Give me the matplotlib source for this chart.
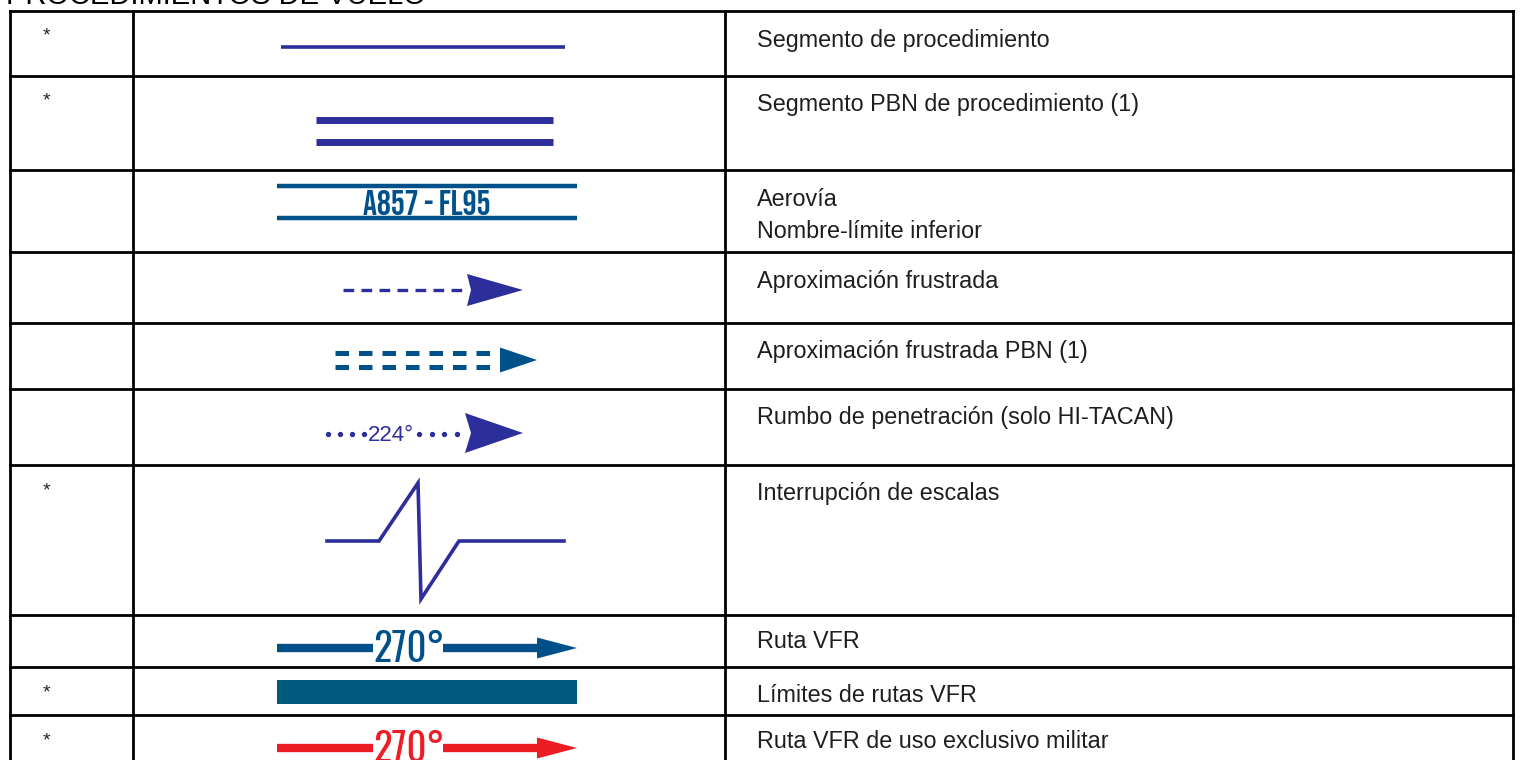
import matplotlib
matplotlib.use("Agg")
import matplotlib.pyplot as plt
import numpy as np
from matplotlib import font_manager as fm
from matplotlib.patches import Polygon, Rectangle

# ---- data ----
title = "PROCEDIMIENTOS DE VUELO"
descriptions = [
    "Segmento de procedimiento",
    "Segmento PBN de procedimiento (1)",
    "Aerovía\nNombre-límite inferior",
    "Aproximación frustrada",
    "Aproximación frustrada PBN (1)",
    "Rumbo de penetración (solo HI-TACAN)",
    "Interrupción de escalas",
    "Ruta VFR",
    "Límites de rutas VFR",
    "Ruta VFR de uso exclusivo militar",
]
starred = [True, True, False, False, False, False, True, False, True, True]
airway_label = "A857 - FL95"
heading_label = "224°"
vfr_label = "270°"

# ---- fonts ----
_avail = {f.name for f in fm.fontManager.ttflist}


def pick(cands, default="DejaVu Sans"):
    for c in cands:
        if c in _avail:
            return c
    return default


F_TEXT = pick(["Nimbus Sans", "Liberation Sans", "Arimo"])
F_AIRWAY = pick(["Bebas Neue", "Oswald", "Fira Sans Extra Condensed"])
F_VFR = pick(["Oswald", "Antonio", "Bebas Neue", "Fira Sans Extra Condensed"])

# ---- layout ----
W, H = 1521, 760
NAVY = "#2B2E9B"
BLUE = "#00508A"
TEAL = "#00587C"
RED = "#EE1C25"

fig = plt.figure(figsize=(W / 100, H / 100), dpi=100)
ax = fig.add_axes([0, 0, 1, 1])
ax.set_xlim(0, W)
ax.set_ylim(H, 0)
ax.axis("off")

row_edges = [11, 76, 170, 252, 323, 389, 465, 615, 667, 715]
x_left, x_c1, x_c2, x_right = 10, 133, 725, 1513
lw_grid = 2.0

for y in row_edges:
    ax.plot([x_left, x_right], [y, y], color="black", lw=lw_grid, solid_capstyle="projecting")
for x in (x_left, x_c1, x_c2, x_right):
    ax.plot([x, x], [row_edges[0], H + 5], color="black", lw=lw_grid, solid_capstyle="projecting")

# title (cut at the top edge as in the reference)
ax.text(6, 4, title, fontsize=21, family=F_TEXT, color="black", va="baseline", ha="left")

desc_base = [47, 111, 206, 288, 358, 424, 500, 648, 702, 748]
star_y = [36, 101, 0, 0, 0, 0, 491, 0, 693, 741]
for i, d in enumerate(descriptions):
    lines = d.split("\n")
    for k, ln in enumerate(lines):
        ax.text(757, desc_base[i] + 31.5 * k, ln, fontsize=16.8, family=F_TEXT,
                color="#1e1e1e", va="baseline", ha="left")
    if starred[i]:
        ax.text(46, star_y[i], "*", fontsize=14, family=F_TEXT,
                color="#222222", ha="center", va="center")


def arrowhead(x0, x1, y, hh, color, notch=0.0):
    ax.add_patch(Polygon([[x0, y - hh], [x1, y], [x0, y + hh], [x0 + notch, y]],
                         closed=True, facecolor=color, edgecolor="none"))


# row 1
ax.plot([281, 565], [47, 47], color=NAVY, lw=2.6, solid_capstyle="butt")
# row 2
for y in (120, 142):
    ax.plot([316, 553], [y, y], color=NAVY, lw=5.0, solid_capstyle="butt")
# row 3
for y in (186, 218):
    ax.plot([277, 577], [y, y], color=BLUE, lw=3.2, solid_capstyle="butt")
ax.text(427, 215, airway_label, fontsize=25, family=F_AIRWAY,
        weight="bold", color=BLUE, ha="center", va="baseline")
# row 4
ax.plot([343, 466], [290, 290], color=NAVY, lw=2.4, dashes=(3.2, 2.2), solid_capstyle="butt")
arrowhead(467, 523, 290, 16, NAVY, notch=4)
# row 5
for y in (353, 367):
    ax.plot([335, 496], [y, y], color=BLUE, lw=3.6, dashes=(2.7, 2.0), dash_capstyle="butt")
arrowhead(500, 537, 360, 12.5, BLUE)
# row 6
ax.plot(np.linspace(328, 364, 4), [434] * 4, ls="none", marker="o", ms=2.8, color=NAVY)
ax.plot(np.linspace(419, 457, 4), [434] * 4, ls="none", marker="o", ms=2.8, color=NAVY)
ax.text(391, 441, heading_label, fontsize=16, family=F_TEXT, color=NAVY,
        ha="center", va="baseline")
arrowhead(465, 523, 433, 20, NAVY, notch=6)
# row 7
zx = [327, 379, 418, 421, 459, 564]
zy = [541, 541, 483, 599, 541, 541]
ax.plot(zx, zy, color=NAVY, lw=2.6, solid_joinstyle="miter")


def vfr_arrow(y, color):
    ax.plot([277, 373], [y, y], color=color, lw=6.0, solid_capstyle="butt")
    ax.plot([443, 542], [y, y], color=color, lw=6.0, solid_capstyle="butt")
    arrowhead(537, 577, y, 10.5, color)
    ax.text(409, y + 14, vfr_label, fontsize=28, family=F_VFR, weight="light",
            color=color, ha="center", va="baseline")


vfr_arrow(648, BLUE)
ax.add_patch(Rectangle((277, 680), 300, 24, facecolor=TEAL, edgecolor="none"))
vfr_arrow(748, RED)

fig.savefig("out.png", dpi=100)
